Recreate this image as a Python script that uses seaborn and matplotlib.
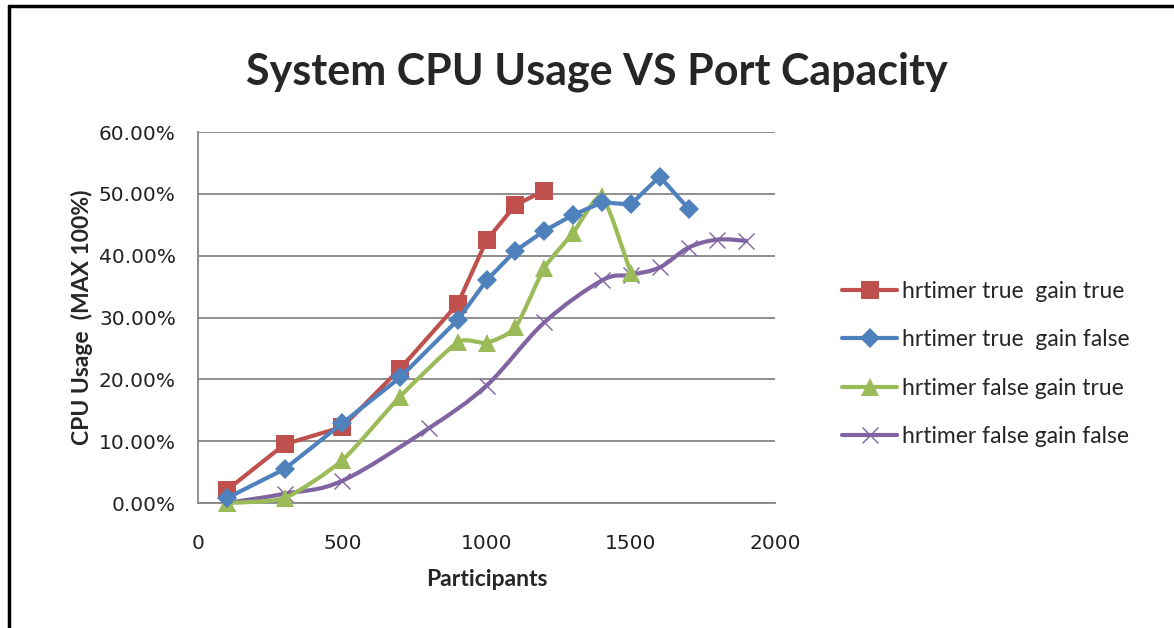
import numpy as np
import matplotlib
matplotlib.use("Agg")
import matplotlib.pyplot as plt
from matplotlib.path import Path
from matplotlib.patches import PathPatch
from matplotlib.lines import Line2D
from matplotlib.ticker import PercentFormatter, MultipleLocator
import seaborn as sns

# data
red_x = [100, 300, 500, 700, 900, 1000, 1100, 1200]
red_y = [0.021, 0.095, 0.123, 0.217, 0.322, 0.425, 0.482, 0.505]

blue_x = [100, 300, 500, 700, 900, 1000, 1100, 1200, 1300, 1400, 1500, 1600, 1700]
blue_y = [0.008, 0.055, 0.129, 0.203, 0.296, 0.360, 0.408, 0.440, 0.466, 0.486, 0.483, 0.528, 0.476]

green_x = [100, 300, 500, 700, 900, 1000, 1100, 1200, 1300, 1400, 1500]
green_y = [0.0, 0.008, 0.069, 0.172, 0.260, 0.259, 0.284, 0.380, 0.437, 0.496, 0.372]

purple_x = [100, 300, 500, 800, 1000, 1200, 1400, 1500, 1600, 1700, 1800, 1900]
purple_y = [0.0, 0.015, 0.036, 0.121, 0.190, 0.292, 0.360, 0.369, 0.381, 0.413, 0.426, 0.424]

labels = ["hrtimer true  gain true", "hrtimer true  gain false",
          "hrtimer false gain true", "hrtimer false gain false"]
colors = ["#C0504D", "#4F81BD", "#9BBB59", "#8064A2"]

sns.set_style("white")
plt.rcParams["font.family"] = ["DejaVu Sans"]


def smooth_path(xs, ys, k=6.0):
    # excel-style smoothed line: catmull-rom segments as cubic beziers
    pts = np.column_stack([xs, ys]).astype(float)
    verts = [pts[0]]
    codes = [Path.MOVETO]
    n = len(pts)
    for i in range(n - 1):
        p0 = pts[i - 1] if i > 0 else pts[i]
        p1 = pts[i]
        p2 = pts[i + 1]
        p3 = pts[i + 2] if i + 2 < n else pts[i + 1]
        c1 = p1 + (p2 - p0) / k
        c2 = p2 - (p3 - p1) / k
        verts += [c1, c2, p2]
        codes += [Path.CURVE4] * 3
    return Path(verts, codes)


fig = plt.figure(figsize=(11.74, 6.28), dpi=100)
ax = fig.add_axes([0.1687, 0.199, 0.4915, 0.5908])

lw = 3.0
markers = [("s", 12.5, 0), ("D", 10, 0), ("^", 12.5, 0), ("x", 11, 1.0)]

sns.lineplot(x=red_x, y=red_y, ax=ax, color=colors[0], lw=lw, marker="s",
             markersize=markers[0][1], markeredgewidth=0, clip_on=False, zorder=4)
sns.lineplot(x=blue_x, y=blue_y, ax=ax, color=colors[1], lw=lw, marker="D",
             markersize=markers[1][1], markeredgewidth=0, clip_on=False, zorder=5)

# smoothed series: markers from seaborn, curve as a path in data coords
sns.lineplot(x=green_x, y=green_y, ax=ax, color=colors[2], lw=0, marker="^",
             markersize=markers[2][1], markeredgewidth=0, clip_on=False, zorder=3)
ax.add_patch(PathPatch(smooth_path(green_x, green_y, k=10.0), fc="none",
                       ec=colors[2], lw=lw, zorder=3, clip_on=False, capstyle="round"))
sns.lineplot(x=purple_x, y=purple_y, ax=ax, color=colors[3], lw=0, marker="x",
             markersize=markers[3][1], markeredgewidth=1.0,
             markeredgecolor=colors[3], clip_on=False, zorder=2)
ax.add_patch(PathPatch(smooth_path(purple_x, purple_y), fc="none", ec=colors[3],
                       lw=lw, zorder=2, clip_on=False, capstyle="round"))

ax.set_xlim(0, 2000)
ax.set_ylim(0, 0.6)
ax.xaxis.set_major_locator(MultipleLocator(500))
ax.yaxis.set_major_locator(MultipleLocator(0.1))
ax.yaxis.set_major_formatter(PercentFormatter(1.0, decimals=2))

ax.grid(axis="y", color="#868686", lw=1.3)
ax.grid(axis="x", visible=False)
ax.set_axisbelow(True)
for side in ["top", "right"]:
    ax.spines[side].set_visible(False)
for side in ["left", "bottom"]:
    ax.spines[side].set_color("#868686")
    ax.spines[side].set_linewidth(1.3)

ax.tick_params(axis="y", length=4, width=1.3, color="#868686", pad=12,
               labelsize=14.5, labelcolor="#222222")
ax.tick_params(axis="x", length=0, pad=22, labelsize=14.5, labelcolor="#222222")

ax.set_xlabel("Participants", fontsize=16.5, fontweight="bold", family="Lato",
              labelpad=12)
ax.set_ylabel("CPU Usage  (MAX 100%)", fontsize=16.5, fontweight="bold", family="Lato",
              labelpad=4)

fig.text(0.5085, 0.885, "System CPU Usage VS Port Capacity", ha="center", va="center",
         fontsize=31, fontweight="bold", family="Lato")

handles = [Line2D([], [], color=c, lw=lw, marker=m, markersize=ms,
                  markeredgewidth=mew, markeredgecolor=c)
           for c, (m, ms, mew) in zip(colors, markers)]
fig.legend(handles, labels, loc="center left", bbox_to_anchor=(0.7, 0.42),
           frameon=False, handlelength=2.4, handletextpad=0.2,
           labelspacing=1.2, prop={"family": "Lato", "size": 16.5})

# black frame on top and left edge like the screenshot
fig.add_artist(Line2D([0.0075, 1.0], [0.991, 0.991], transform=fig.transFigure,
                      color="black", lw=2.5))
fig.add_artist(Line2D([0.0075, 0.0075], [0.0, 0.991], transform=fig.transFigure,
                      color="black", lw=2.5))

fig.savefig("out.png", dpi=100)
